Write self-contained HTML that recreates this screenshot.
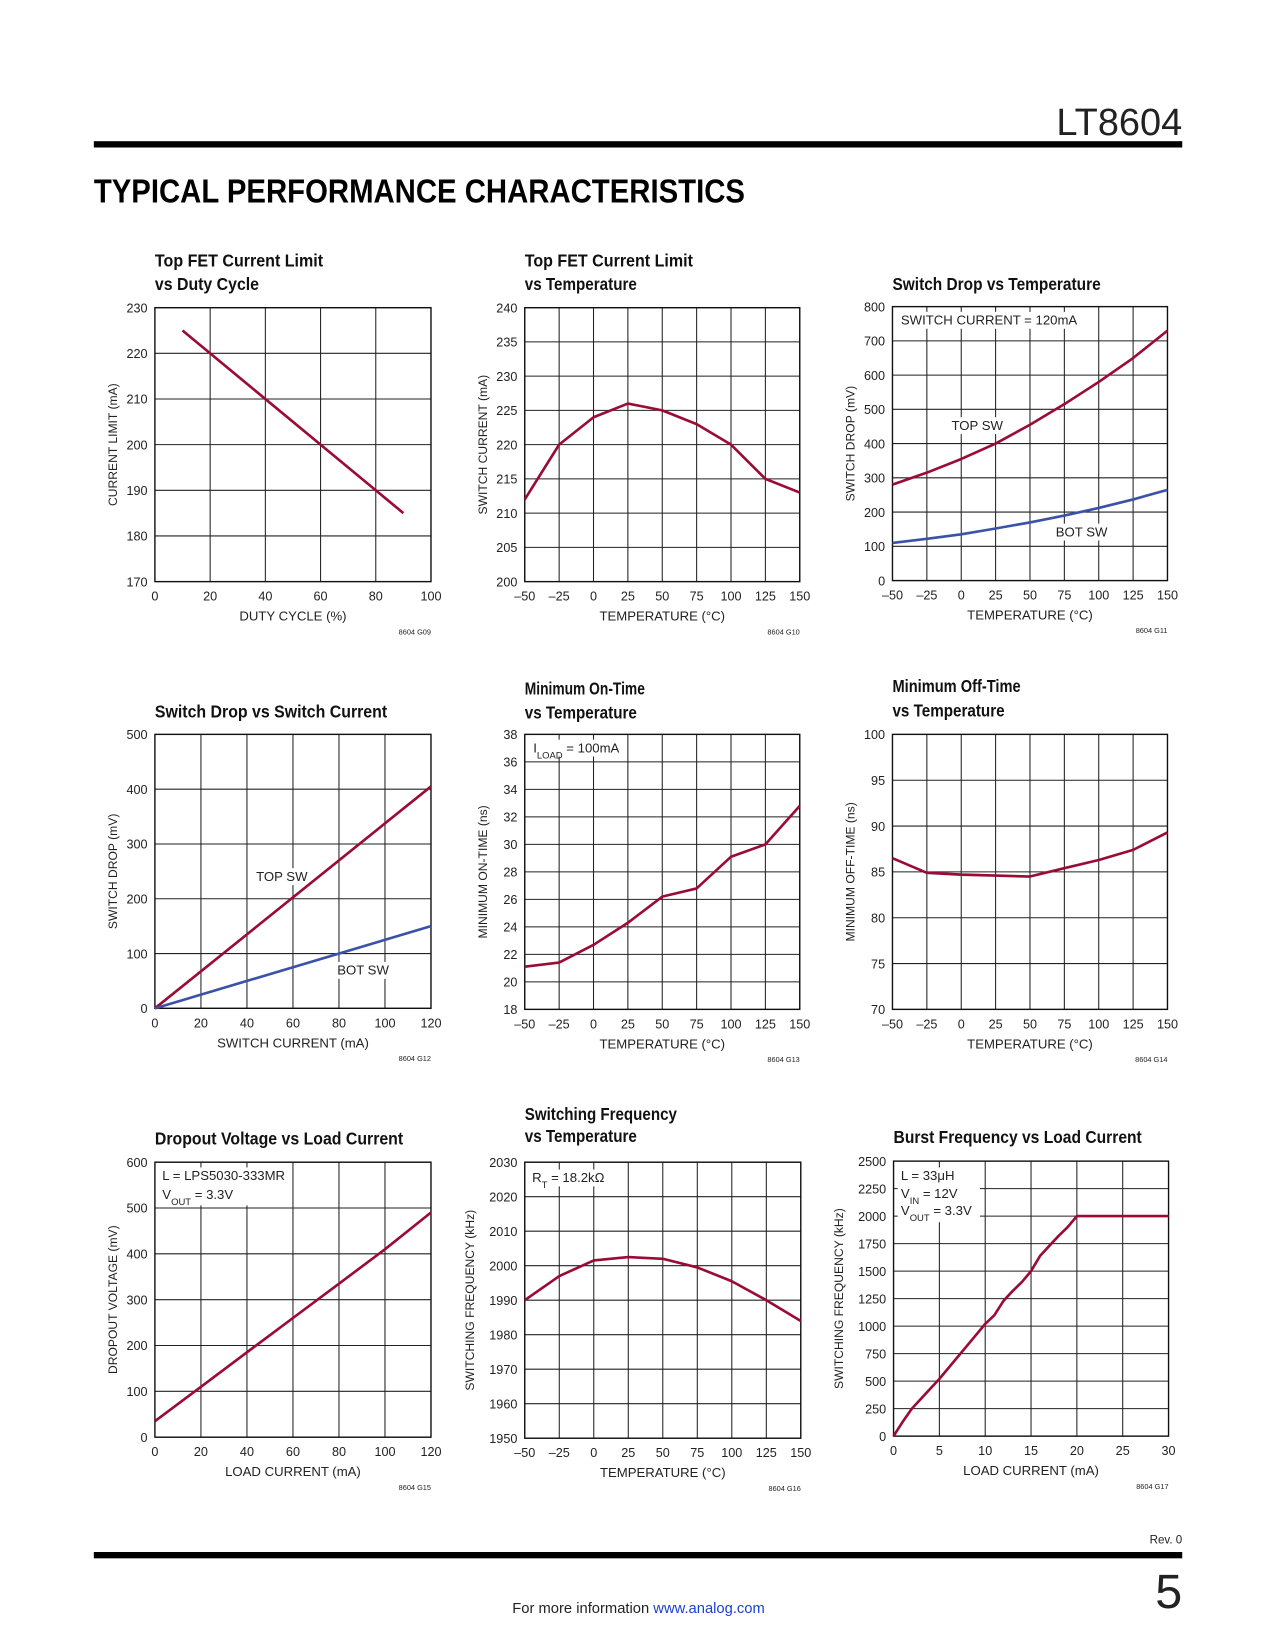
<!DOCTYPE html>
<html><head><meta charset="utf-8"><style>
html,body{margin:0;padding:0;background:#fff}
svg{display:block}
text{font-family:"Liberation Sans",sans-serif;fill:#222}
</style></head><body>
<svg id="page" width="1275" height="1650" viewBox="0 0 1210 1566" xmlns="http://www.w3.org/2000/svg">
<text x="1122" y="128" text-anchor="end" font-size="36" style="font-weight:300">LT8604</text>
<rect x="89" y="134" width="1033" height="6" fill="#000"/>
<text x="89" y="192" font-size="32" font-weight="bold" textLength="618" lengthAdjust="spacingAndGlyphs" style="fill:#000">TYPICAL PERFORMANCE CHARACTERISTICS</text>
<rect x="89" y="1473" width="1033" height="6" fill="#000"/>
<text x="1122" y="1465" text-anchor="end" font-size="11">Rev. 0</text>
<text x="1122" y="1526" text-anchor="end" font-size="46" style="font-weight:300">5</text>
<text x="606" y="1531" text-anchor="middle" font-size="14">For more information <tspan style="fill:#1a3fd6">www.analog.com</tspan></text>
<g id="charts"></g>
</svg>
<script>
// G09
const g09X=[10,90]; const g09Y=[225,185];
// G10
const tempX=[-50,-25,0,25,50,75,100,125,150];
const g10Y=[212,220,224,226,225,223,220,215,213];
// G11
const g11X=[-50,-25,0,25,50,75,100,125,150];
const g11Top=[280,315,355,400,455,515,580,650,730];
const g11Bot=[110,122,135,152,170,190,212,237,265];
// G12
const g12X=[0,120]; const g12Top=[0,405]; const g12Bot=[0,150];
// G13
const g13Y=[21.1,21.4,22.7,24.3,26.2,26.8,29.1,30,32.8];
// G14
const g14Y=[86.5,84.9,84.7,84.6,84.5,85.4,86.3,87.4,89.3];
// G15
const g15X=[0,20,40,60,80,100,120]; const g15Y=[35,110,185,260,335,410,490];
// G16
const g16Y=[1990,1997,2001.5,2002.5,2002,1999.5,1995.5,1990,1984];
// G17
const g17X=[0,1,2,5,8,9,10,11,12,13,14,15,16,17,18,19,20,30];
const g17Y=[0,130,250,520,820,920,1020,1100,1230,1320,1400,1500,1640,1730,1820,1900,2000,2000];
// tick labels
const ticksDuty=[0,20,40,60,80,100];
const ticksTemp=["–50","–25","0","25","50","75","100","125","150"];
const ticks120=[0,20,40,60,80,100,120];
const ticks30=[0,5,10,15,20,25,30];

const RED="#9a0b36", BLUE="#3b52a8";
const NS="http://www.w3.org/2000/svg";
const root=document.getElementById('charts');
function el(tag,attrs,parent){const e=document.createElementNS(NS,tag);for(const k in attrs)e.setAttribute(k,attrs[k]);(parent||root).appendChild(e);return e;}

const charts=[
 {id:"g09",x:147,y:292,w:262,h:260,xmin:0,xmax:100,xt:ticksDuty,ymin:170,ymax:230,yt:[170,180,190,200,210,220,230],
  title:["Top FET Current Limit","vs Duty Cycle"],ty:[253,275],xl:"DUTY CYCLE (%)",yl:"CURRENT LIMIT (mA)",yo:36,code:"8604 G09",
  series:[[g09X,g09Y,RED]],ann:[]},
 {id:"g10",x:498,y:292,w:261,h:260,xmin:-50,xmax:150,xt:ticksTemp,ymin:200,ymax:240,yt:[200,205,210,215,220,225,230,235,240],
  title:["Top FET Current Limit","vs Temperature"],ty:[253,275],xl:"TEMPERATURE (°C)",yl:"SWITCH CURRENT (mA)",yo:36,code:"8604 G10",
  series:[[tempX,g10Y,RED]],ann:[]},
 {id:"g11",x:847,y:291,w:261,h:260,xmin:-50,xmax:150,xt:ticksTemp,ymin:0,ymax:800,yt:[0,100,200,300,400,500,600,700,800],
  title:["Switch Drop vs Temperature"],ty:[275],xl:"TEMPERATURE (°C)",yl:"SWITCH DROP (mV)",yo:36,code:"8604 G11",
  series:[[g11X,g11Top,RED],[g11X,g11Bot,BLUE]],
  ann:[{t:"SWITCH CURRENT = 120mA",x:855,y:308,box:true},{t:"TOP SW",x:903,y:408,box:true},{t:"BOT SW",x:1002,y:509,box:true}]},
 {id:"g12",x:147,y:697,w:262,h:260,xmin:0,xmax:120,xt:ticks120,ymin:0,ymax:500,yt:[0,100,200,300,400,500],
  title:["Switch Drop vs Switch Current"],ty:[681],xl:"SWITCH CURRENT (mA)",yl:"SWITCH DROP (mV)",yo:36,code:"8604 G12",
  series:[[g12X,g12Top,RED],[g12X,g12Bot,BLUE]],
  ann:[{t:"TOP SW",x:243,y:836,box:true},{t:"BOT SW",x:320,y:925,box:true}]},
 {id:"g13",x:498,y:697,w:261,h:261,xmin:-50,xmax:150,xt:ticksTemp,ymin:18,ymax:38,yt:[18,20,22,24,26,28,30,32,34,36,38],
  title:["Minimum On-Time","vs Temperature"],ty:[659,682],xl:"TEMPERATURE (°C)",yl:"MINIMUM ON-TIME (ns)",yo:36,code:"8604 G13",
  series:[[tempX,g13Y,RED]],ann:[{t:"I<tspan baseline-shift='sub' font-size='9'>LOAD</tspan> = 100mA",x:506,y:714,box:true,w:88}]},
 {id:"g14",x:847,y:697,w:261,h:261,xmin:-50,xmax:150,xt:ticksTemp,ymin:70,ymax:100,yt:[70,75,80,85,90,95,100],
  title:["Minimum Off-Time","vs Temperature"],ty:[657,680],xl:"TEMPERATURE (°C)",yl:"MINIMUM OFF-TIME (ns)",yo:36,code:"8604 G14",
  series:[[tempX,g14Y,RED]],ann:[]},
 {id:"g15",x:147,y:1103,w:262,h:261,xmin:0,xmax:120,xt:ticks120,ymin:0,ymax:600,yt:[0,100,200,300,400,500,600],
  title:["Dropout Voltage vs Load Current"],ty:[1086],xl:"LOAD CURRENT (mA)",yl:"DROPOUT VOLTAGE (mV)",yo:36,code:"8604 G15",
  series:[[g15X,g15Y,RED]],ann:[{t:"L = LPS5030-333MR",x:154,y:1120,box:true,w:120,h:36},{t:"V<tspan baseline-shift='sub' font-size='9'>OUT</tspan> = 3.3V",x:154,y:1138}]},
 {id:"g16",x:498,y:1103,w:262,h:262,xmin:-50,xmax:150,xt:ticksTemp,ymin:1950,ymax:2030,yt:[1950,1960,1970,1980,1990,2000,2010,2020,2030],
  title:["Switching Frequency","vs Temperature"],ty:[1063,1084],xl:"TEMPERATURE (°C)",yl:"SWITCHING FREQUENCY (kHz)",yo:48,code:"8604 G16",
  series:[[tempX,g16Y,RED]],ann:[{t:"R<tspan baseline-shift='sub' font-size='9'>T</tspan> = 18.2kΩ",x:505,y:1122,box:true,w:78}]},
 {id:"g17",x:848,y:1102,w:261,h:261,xmin:0,xmax:30,xt:ticks30,ymin:0,ymax:2500,yt:[0,250,500,750,1000,1250,1500,1750,2000,2250,2500],
  title:["Burst Frequency vs Load Current"],ty:[1085],xl:"LOAD CURRENT (mA)",yl:"SWITCHING FREQUENCY (kHz)",yo:48,code:"8604 G17",
  series:[[g17X,g17Y,RED]],
  ann:[{t:"L = 33μH",x:855,y:1120,box:true,w:78,h:52},{t:"V<tspan baseline-shift='sub' font-size='9'>IN</tspan> = 12V",x:855,y:1137},{t:"V<tspan baseline-shift='sub' font-size='9'>OUT</tspan> = 3.3V",x:855,y:1153}]}
];

charts.forEach(c=>{
  const g=el('g',{});
  
  
  const sx=v=>c.x+(v-c.xmin)/(c.xmax-c.xmin)*c.w;
  const sy=v=>c.y+c.h-(v-c.ymin)/(c.ymax-c.ymin)*c.h;
  c.title.forEach((t,i)=>{
    const e=el('text',{x:c.x,y:c.ty[i],'font-size':17,'font-weight':'bold',style:'fill:#111','textLength':t.length*7.6,'lengthAdjust':'spacingAndGlyphs'},g);
    
    
    e.textContent=t;
  });
  const nx=c.xt.length-1;
  for(let i=0;i<=nx;i++){
    const x=c.x+i*c.w/nx;
    const ln=el('line',{x1:x,x2:x,y1:c.y,y2:c.y+c.h,stroke:'#222','stroke-width':1},g);
    
    
    const t=el('text',{x:x,y:c.y+c.h+18,'text-anchor':'middle','font-size':12},g);
    
    
    t.textContent=c.xt[i];
  }
  c.yt.forEach(v=>{
    const y=sy(v);
    const ln=el('line',{x1:c.x,x2:c.x+c.w,y1:y,y2:y,stroke:'#222','stroke-width':1},g);
    
    
    const t=el('text',{x:c.x-7,y:y+4.5,'text-anchor':'end','font-size':12},g);
    
    
    t.textContent=v;
  });
  const fr=el('rect',{x:c.x,y:c.y,width:c.w,height:c.h,fill:'none',stroke:'#111','stroke-width':1.3},g);
  
  
  c.ann.forEach(a=>{
    if(a.box){
      const len=a.t.replace(/<[^>]+>/g,'').length;
      const r=el('rect',{x:a.x-3,y:a.y-12,width:a.w||len*7.3+6,height:a.h||16,fill:'#fff'},g);
      
      
    }
  });
  c.ann.forEach(a=>{
    const t=el('text',{x:a.x,y:a.y,'font-size':12.5},g);
    
    
    t.innerHTML=a.t;
  });
  c.series.forEach((s,k)=>{
    const pts=s[0].map((xv,i)=>sx(xv).toFixed(1)+','+sy(s[1][i]).toFixed(1)).join(' ');
    const p=el('polyline',{points:pts,fill:'none',stroke:s[2],'stroke-width':2.5,'stroke-linejoin':'round'},g);
    
    
  });
  const xl=el('text',{x:c.x+c.w/2,y:c.y+c.h+37,'text-anchor':'middle','font-size':12.5},g);
  
  
  xl.textContent=c.xl;
  const yx=c.x-c.yo, yy=c.y+c.h/2;
  const yl=el('text',{x:yx,y:yy,'text-anchor':'middle','font-size':11.5,transform:'rotate(-90 '+yx+' '+yy+')'},g);
  
  
  yl.textContent=c.yl;
  const cd=el('text',{x:c.x+c.w,y:c.y+c.h+50,'text-anchor':'end','font-size':7},g);
  
  
  cd.textContent=c.code;
});
</script>
</body></html>
